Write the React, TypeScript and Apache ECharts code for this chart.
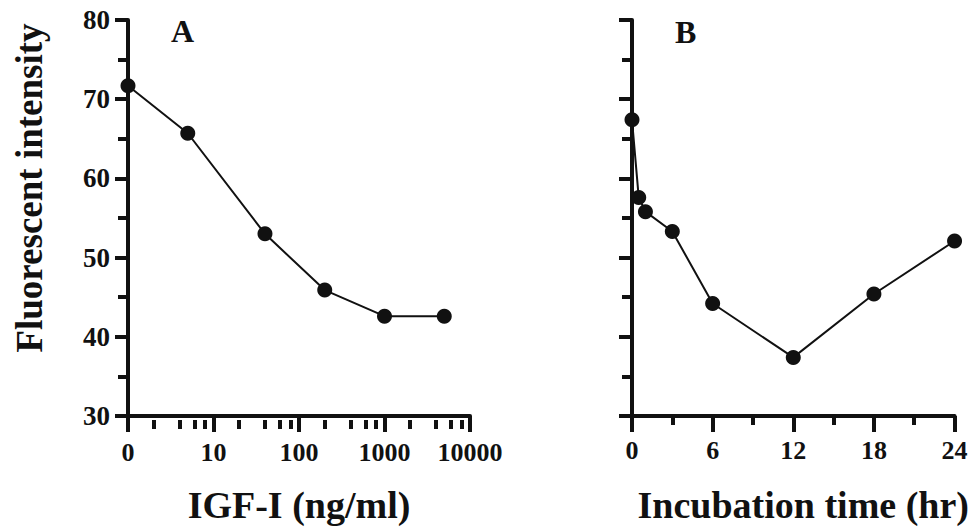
import React, { useEffect, useRef } from "react";
import * as echarts from "echarts";

// Panel A: IGF-I dose (ng/ml); the zero dose is drawn at the axis origin (log position of 1)
const concA = [0, 5, 40, 200, 1000, 5000];
const intensityA = [71.7, 65.7, 53, 45.9, 42.6, 42.6];
const concTickLabels = ["0", "10", "100", "1000", "10000"];
const concMinorTicks = [2, 4, 6, 8, 20, 40, 60, 80, 200, 400, 600, 800, 2000, 4000, 6000, 8000];

// Panel B: incubation time (hr)
const hoursB = [0, 0.5, 1, 3, 6, 12, 18, 24];
const intensityB = [67.4, 57.6, 55.8, 53.3, 44.2, 37.4, 45.4, 52.1];

const yMin = 30;
const yMax = 80;
const yStep = 10;

const FONT = '"Liberation Serif", "Times New Roman", serif';
const INK = "#111111";

const toLog = (c: number) => Math.log10(Math.max(c, 1));

export default function App() {
  const ref = useRef<HTMLDivElement>(null);

  useEffect(() => {
    if (!ref.current) return;
    const chart = echarts.init(ref.current, undefined, { renderer: "svg" });

    const axisLine = { show: true, lineStyle: { color: INK, width: 4 } };
    const labelStyle = { color: INK, fontFamily: FONT, fontWeight: "bold" as const };

    const yAxisBase = (gridIndex: number, showLabels: boolean) => ({
      type: "value",
      gridIndex,
      min: yMin,
      max: yMax,
      interval: yStep,
      name: showLabels ? "Fluorescent intensity" : "",
      nameLocation: "middle",
      nameGap: 80,
      nameTextStyle: { ...labelStyle, fontSize: 37, padding: [0, 0, 0, 60] },
      axisLine,
      axisTick: { show: true, length: 13, lineStyle: { color: INK, width: 4 } },
      minorTick: { show: true, splitNumber: 2, length: 10, lineStyle: { color: INK, width: 4 } },
      splitLine: { show: false },
      axisLabel: { show: showLabels, ...labelStyle, fontSize: 27, margin: 18 },
    });

    const option: any = {
      animation: false,
      backgroundColor: "#ffffff",
      title: [
        { text: "A", left: 166, top: 10, textStyle: { ...labelStyle, fontSize: 32 } },
        { text: "B", left: 670, top: 11, textStyle: { ...labelStyle, fontSize: 32 } },
      ],
      grid: [
        { left: 128, top: 20, width: 342, height: 400 },
        { left: 632, top: 20, width: 323, height: 400 },
        { left: 128, top: 20, width: 342, height: 400 },
      ],
      xAxis: [
        {
          type: "value",
          gridIndex: 0,
          min: 0,
          max: concTickLabels.length - 1,
          interval: 1,
          name: "IGF-I (ng/ml)",
          nameLocation: "middle",
          nameGap: 70,
          nameTextStyle: { ...labelStyle, fontSize: 38 },
          axisLine,
          axisTick: { show: true, length: 16, lineStyle: { color: INK, width: 4 } },
          splitLine: { show: false },
          axisLabel: {
            ...labelStyle,
            fontSize: 26,
            margin: 23,
            formatter: (v: number) => concTickLabels[Math.round(v)] ?? "",
          },
        },
        {
          type: "value",
          gridIndex: 1,
          min: 0,
          max: 24,
          interval: 6,
          name: "Incubation time (hr)",
          nameLocation: "middle",
          nameGap: 70,
          nameTextStyle: { ...labelStyle, fontSize: 38, padding: [0, 0, 0, 20] },
          axisLine,
          axisTick: { show: true, length: 16, lineStyle: { color: INK, width: 4 } },
          minorTick: { show: true, splitNumber: 2, length: 9, lineStyle: { color: INK, width: 4 } },
          splitLine: { show: false },
          axisLabel: { ...labelStyle, fontSize: 26, margin: 21 },
        },
        {
          type: "value",
          gridIndex: 2,
          min: 0,
          max: concTickLabels.length - 1,
          axisLine: { show: false },
          axisTick: {
            show: true,
            length: 9,
            customValues: concMinorTicks.map(toLog),
            lineStyle: { color: INK, width: 4 },
          },
          axisLabel: { show: false },
          splitLine: { show: false },
        },
      ],
      yAxis: [
        yAxisBase(0, true),
        yAxisBase(1, false),
        { type: "value", gridIndex: 2, min: yMin, max: yMax, show: false },
      ],
      series: [
        {
          type: "line",
          xAxisIndex: 0,
          yAxisIndex: 0,
          data: concA.map((c, i) => [toLog(c), intensityA[i]]),
          symbol: "circle",
          symbolSize: 15,
          itemStyle: { color: INK },
          lineStyle: { color: INK, width: 2 },
        },
        {
          type: "line",
          xAxisIndex: 1,
          yAxisIndex: 1,
          data: hoursB.map((h, i) => [h, intensityB[i]]),
          symbol: "circle",
          symbolSize: 15,
          itemStyle: { color: INK },
          lineStyle: { color: INK, width: 2 },
        },
      ],
    };

    chart.setOption(option);
    return () => chart.dispose();
  }, []);

  return (
    <div
      ref={ref}
      style={{ position: "absolute", left: 0, top: 0, width: 972, height: 529, background: "#fff" }}
    />
  );
}
